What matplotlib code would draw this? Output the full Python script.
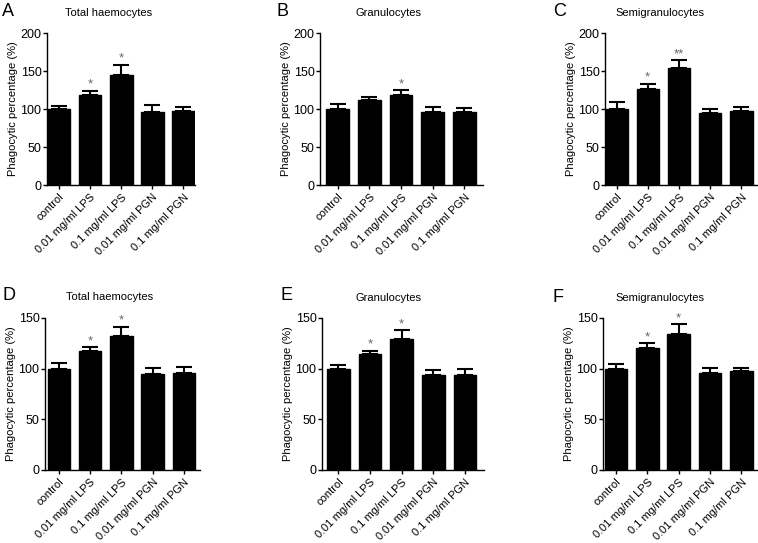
"""
Phagocytic percentage of haemocyte subpopulations after LPS / PGN treatment
"""

# Imports
import matplotlib
matplotlib.use('Agg')
import matplotlib.pyplot as plt

plt.rcParams['font.family'] = ['Liberation Sans', 'DejaVu Sans']

# Data
categories = ['control', '0.01 mg/ml LPS', '0.1 mg/ml LPS', '0.01 mg/ml PGN', '0.1 mg/ml PGN']
titles = ['Total haemocytes', 'Granulocytes', 'Semigranulocytes',
          'Total haemocytes', 'Granulocytes', 'Semigranulocytes']
letters = ['A', 'B', 'C', 'D', 'E', 'F']

mean_A = [100, 118, 145, 96, 97]
err_A = [4, 6, 13, 9, 5]
star_A = ['', '*', '*', '', '']

mean_B = [100, 112, 119, 96, 96]
err_B = [6, 3.5, 6, 6, 5.5]
star_B = ['', '', '*', '', '']

mean_C = [100, 126, 154, 95, 97]
err_C = [9, 7, 10, 5.5, 6]
star_C = ['', '*', '**', '', '']

mean_D = [100, 117, 132, 95, 96]
err_D = [5.5, 4, 9.5, 6, 6]
star_D = ['', '*', '*', '', '']

mean_E = [100, 114, 129, 94, 94]
err_E = [4, 3.5, 9, 4.5, 5.5]
star_E = ['', '*', '*', '', '']

mean_F = [100, 120, 134, 96, 98]
err_F = [5, 5, 10, 5, 2.5]
star_F = ['', '*', '*', '', '']

means = [mean_A, mean_B, mean_C, mean_D, mean_E, mean_F]
errs = [err_A, err_B, err_C, err_D, err_E, err_F]
stars = [star_A, star_B, star_C, star_D, star_E, star_F]
ymax = [200, 200, 200, 150, 150, 150]
ystep = [50, 50, 50, 50, 50, 50]

# Layout in pixels (left, right, x-limits) for each panel
W, H = 758, 543
px_x = [(47, 195), (320, 483), (605, 757), (45, 200), (322, 484), (603, 757)]
xlims = [(-0.39, 4.37), (-0.56, 4.59), (-0.37, 4.5), (-0.45, 4.52), (-0.52, 4.6), (-0.42, 4.5)]
px_zero = [185, 185, 185, 470, 470, 470]
title_x = [109, 388, 660, 110, 389, 660]
title_y = [13, 13, 13, 297, 298, 298]
letter_x = [2, 277, 553, 2, 280, 553]
letter_y = [12, 12, 12, 295, 295, 297]

fig = plt.figure(figsize=(W / 100, H / 100), dpi=100)

for i in range(6):
    x0, x1 = px_x[i]
    ax = fig.add_axes([x0 / W, 1 - px_zero[i] / H, (x1 - x0) / W, 152 / H])
    pos = range(len(categories))
    ax.bar(pos, means[i], width=0.72, color='black', edgecolor='black', zorder=2)
    ax.errorbar(pos, means[i], yerr=[[0] * 5, errs[i]], fmt='none', ecolor='black',
                elinewidth=1.5, capsize=6, capthick=1.5, zorder=1)
    for j in pos:
        if stars[i][j]:
            ax.text(j, means[i][j] + errs[i][j], stars[i][j],
                    ha='center', va='bottom', fontsize=9.5, color='#666666')
    ax.set_xlim(*xlims[i])
    ax.set_ylim(0, ymax[i])
    ax.set_yticks(range(0, ymax[i] + 1, ystep[i]))
    ax.set_xticks(list(pos))
    ax.set_xticklabels(categories, rotation=45, ha='right', rotation_mode='anchor', fontsize=8)
    ax.tick_params(axis='y', labelsize=9, length=3, width=1, pad=1)
    ax.tick_params(axis='x', length=3, width=1, pad=2)
    ax.spines['top'].set_visible(False)
    ax.spines['right'].set_visible(False)
    ax.spines['left'].set_linewidth(1)
    ax.spines['bottom'].set_linewidth(1)
    ax.set_ylabel('Phagocytic percentage (%)', fontsize=8, labelpad=2)

    fig.text(title_x[i] / W, 1 - title_y[i] / H, titles[i], ha='center', va='center', fontsize=8)
    fig.text(letter_x[i] / W, 1 - letter_y[i] / H, letters[i], ha='left', va='center', fontsize=13)

plt.savefig('out.png', dpi=100)
plt.close()
